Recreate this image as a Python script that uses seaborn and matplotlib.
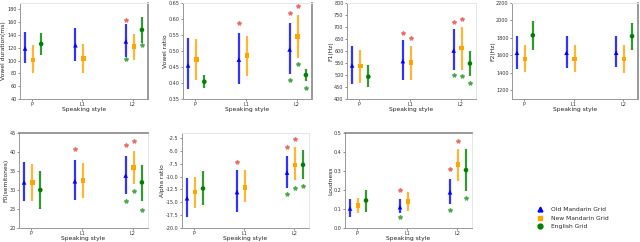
import numpy as np
import pandas as pd
import matplotlib
matplotlib.use("Agg")
import matplotlib.pyplot as plt
import seaborn as sns

nan = np.nan

# categories and series
styles = ["P", "L1", "L2"]
series = ["Old Mandarin Grid", "New Mandarin Grid", "English Grid"]
colors = {"Old Mandarin Grid": "blue", "New Mandarin Grid": "orange", "English Grid": "green"}
markers = {"Old Mandarin Grid": "^", "New Mandarin Grid": "s", "English Grid": "o"}
offsets = {"Old Mandarin Grid": -0.14, "New Mandarin Grid": 0.02, "English Grid": 0.18}

# ---- Vowel duration (ms) ----
dur_mean = [[119, 124, 130], [101, 103, 122], [126, nan, 148]]
dur_lo = [[97, 100, 105], [80, 81, 101], [108, nan, 127]]
dur_hi = [[145, 151, 157], [124, 126, 142], [143, nan, 168]]
dur_red = [(2, 0, 163)]
dur_green = [(2, 0, 103), (2, 2, 124)]

# ---- Vowel ratio ----
ratio_mean = [[0.455, 0.473, 0.505], [0.473, 0.485, 0.545], [0.404, nan, 0.425]]
ratio_lo = [[0.380, 0.398, 0.428], [0.410, 0.422, 0.478], [0.383, nan, 0.405]]
ratio_hi = [[0.540, 0.557, 0.588], [0.537, 0.548, 0.613], [0.425, nan, 0.445]]
ratio_red = [(1, 0, 0.587), (2, 0, 0.618), (2, 1, 0.642)]
ratio_green = [(2, 0, 0.408), (2, 1, 0.458), (2, 2, 0.383)]

# ---- F1 (Hz) ----
f1_mean = [[540, 558, 602], [538, 551, 612], [493, nan, 548]]
f1_lo = [[462, 480, 520], [466, 478, 522], [452, nan, 494]]
f1_hi = [[622, 647, 690], [605, 622, 700], [540, nan, 600]]
f1_red = [(1, 0, 677), (1, 1, 653), (2, 0, 722), (2, 1, 733)]
f1_green = [(2, 0, 498), (2, 1, 495), (2, 2, 466)]

# ---- F2 (Hz) ----
f2_mean = [[1630, 1630, 1630], [1560, 1560, 1560], [1830, nan, 1820]]
f2_lo = [[1445, 1455, 1465], [1405, 1405, 1400], [1665, nan, 1665]]
f2_hi = [[1825, 1825, 1820], [1715, 1715, 1720], [1990, nan, 1975]]
f2_red = []
f2_green = []

# ---- F0 (semitones) ----
f0_mean = [[32.0, 32.3, 33.8], [32.0, 32.5, 36.0], [30.0, nan, 32.0]]
f0_lo = [[27.0, 27.3, 29.0], [27.2, 27.8, 31.7], [25.0, nan, 27.0]]
f0_hi = [[37.5, 38.0, 39.0], [36.8, 37.2, 40.2], [35.0, nan, 36.7]]
f0_red = [(1, 0, 40.8), (2, 0, 41.8), (2, 1, 43.0)]
f0_green = [(2, 0, 27.0), (2, 1, 29.7), (2, 2, 24.8)]

# ---- Alpha ratio ----
alpha_mean = [[-14.2, -13.0, -9.2], [-13.0, -12.1, -7.7], [-12.3, nan, -7.7]]
alpha_lo = [[-17.8, -16.8, -12.3], [-16.2, -14.9, -10.7], [-15.6, nan, -10.4]]
alpha_hi = [[-10.2, -8.8, -5.9], [-10.0, -8.8, -4.3], [-8.9, nan, -4.8]]
alpha_red = [(1, 0, -7.2), (2, 0, -4.2), (2, 1, -2.7)]
alpha_green = [(2, 0, -13.3), (2, 1, -12.3), (2, 2, -11.8)]

# ---- Loudness ----
loud_mean = [[0.103, 0.110, 0.188], [0.118, 0.140, 0.335], [0.145, nan, 0.305]]
loud_lo = [[0.060, 0.080, 0.125], [0.080, 0.090, 0.250], [0.085, nan, 0.195]]
loud_hi = [[0.155, 0.155, 0.260], [0.157, 0.190, 0.415], [0.200, nan, 0.415]]
loud_red = [(1, 0, 0.200), (2, 0, 0.310), (2, 1, 0.460)]
loud_green = [(1, 0, 0.058), (2, 0, 0.095), (2, 2, 0.160)]


def make_frame(mean, lo, hi):
    rows = []
    for si, s in enumerate(series):
        for ci, c in enumerate(styles):
            rows.append({"style": c, "pos": ci + offsets[s], "series": s,
                         "mean": mean[si][ci], "lo": lo[si][ci], "hi": hi[si][ci]})
    return pd.DataFrame(rows).dropna()


sns.set_style("white")
plt.rcParams["font.family"] = ["DejaVu Sans"]

fig = plt.figure(figsize=(6.4, 2.42), dpi=100)
W, H = 640, 242


def add_ax(x0, x1, y0, y1):
    return fig.add_axes([x0 / W, 1 - y1 / H, (x1 - x0) / W, (y1 - y0) / H])


panels = [
    ((20, 148, 3, 99), "Vowel duration(ms)", dur_mean, dur_lo, dur_hi, dur_red, dur_green,
     (40, 190), np.arange(40, 181, 20), "{:.0f}", "right"),
    ((183, 312, 3, 99), "Vowel ratio", ratio_mean, ratio_lo, ratio_hi, ratio_red, ratio_green,
     (0.35, 0.65), np.arange(0.35, 0.651, 0.05), "{:.2f}", "right"),
    ((347, 476, 3, 99), "F1(Hz)", f1_mean, f1_lo, f1_hi, f1_red, f1_green,
     (400, 800), np.arange(400, 801, 50), "{:.0f}", None),
    ((512, 638, 3, 99), "F2(Hz)", f2_mean, f2_lo, f2_hi, f2_red, f2_green,
     (1100, 2200), np.arange(1200, 2201, 200), "{:.0f}", "right"),
    ((19, 148, 133, 228), "F0(semitones)", f0_mean, f0_lo, f0_hi, f0_red, f0_green,
     (20, 45), np.arange(20, 46, 5), "{:.0f}", "top"),
    ((182, 309, 133, 228), "Alpha ratio", alpha_mean, alpha_lo, alpha_hi, alpha_red, alpha_green,
     (-20, -1.5), np.arange(-20, -2.4, 2.5), "{:.1f}", None),
    ((345, 472, 133, 228), "Loudness", loud_mean, loud_lo, loud_hi, loud_red, loud_green,
     (0, 0.5), np.arange(0, 0.51, 0.1), "{:.1f}", "top"),
]

for box, ylabel, mean, lo, hi, red, green, ylim, yticks, fmt, dark in panels:
    ax = add_ax(*box)
    df = make_frame(mean, lo, hi)
    for s in series:
        d = df[df["series"] == s]
        ax.vlines(d["pos"], d["lo"], d["hi"], color=colors[s], lw=1.6, alpha=0.8, zorder=2)
    sns.scatterplot(data=df, x="pos", y="mean", hue="series", style="series",
                    palette=colors, markers=markers, hue_order=series, style_order=series,
                    s=11, linewidth=0, legend=False, ax=ax, zorder=3)
    for ci, si, v in red:
        ax.plot(ci + offsets[series[si]], v, marker="*", ms=3, color="#e8605a",
                lw=0, alpha=0.8)
    for ci, si, v in green:
        ax.plot(ci + offsets[series[si]], v, marker="*", ms=3, color="#3aa03a",
                lw=0, alpha=0.8)
    ax.set_xlim(-0.24, 2.3)
    ax.set_xticks(range(len(styles)))
    ax.set_xticklabels(styles)
    ax.set_ylim(*ylim)
    ax.set_yticks(yticks)
    ax.set_yticklabels([fmt.format(t) for t in yticks])
    ax.tick_params(axis="both", labelsize=3.5, length=1.5, width=0.4, pad=1,
                   colors="#333333", left=True, bottom=True)
    ax.set_xlabel("Speaking style", fontsize=4.3, labelpad=0, color="#222222")
    ax.set_ylabel(ylabel, fontsize=4.3, labelpad=0.5, color="#222222")
    for side, sp in ax.spines.items():
        sp.set_color("#999999")
        sp.set_linewidth(0.7)
    ax.spines["top"].set_color("#e6e6e6")
    ax.spines["right"].set_color("#e6e6e6")
    if dark:
        ax.spines[dark].set_color("#888888")
        ax.spines[dark].set_linewidth(1.2)

# legend panel
leg_handles = [plt.Line2D([], [], marker=markers[s], color=colors[s], lw=0, ms=3.5)
               for s in series]
fig.legend(leg_handles, series, loc="center left", bbox_to_anchor=(532 / W, 1 - 218 / H),
           frameon=False, fontsize=4.3, handletextpad=1.2, labelspacing=0.55,
           handlelength=1.0)

fig.savefig("out.png", dpi=100)
